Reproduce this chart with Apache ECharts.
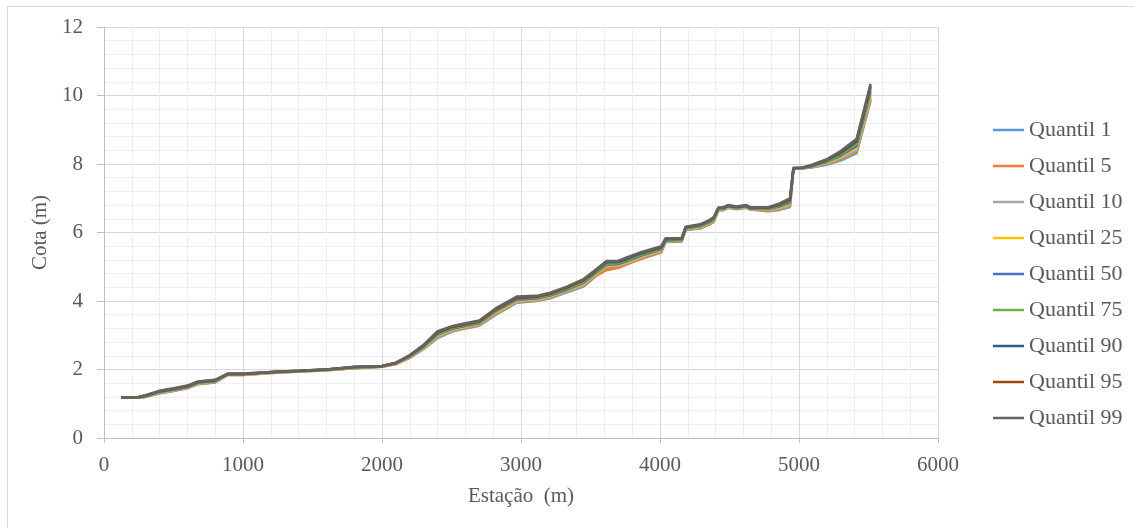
<!DOCTYPE html>
<html>
<head>
<meta charset="utf-8">
<script src="https://cdn.jsdelivr.net/npm/echarts@6/dist/echarts.min.js"></script>
<style>html,body{margin:0;padding:0;background:#fff;}#c{width:1134px;height:528px;}</style>
</head>
<body>
<div id="c"></div>
<script>
const stations = [125,250,300,400,500,600,675,800,890,1000,1200,1400,1600,1800,2000,2100,2200,2300,2400,2500,2600,2700,2820,2970,3110,3210,3330,3450,3530,3615,3700,3760,3845,4010,4040,4155,4185,4290,4350,4385,4420,4455,4490,4550,4620,4650,4780,4860,4935,4960,5020,5090,5200,5300,5415,5515];

const q1  = [1.18,1.18,1.20,1.30,1.37,1.45,1.57,1.62,1.84,1.84,1.90,1.94,1.98,2.04,2.08,2.16,2.34,2.60,2.92,3.10,3.20,3.28,3.60,3.95,4.00,4.08,4.25,4.42,4.70,4.97,4.98,5.08,5.20,5.42,5.72,5.73,6.07,6.12,6.22,6.30,6.65,6.65,6.72,6.68,6.72,6.67,6.62,6.66,6.74,7.86,7.87,7.90,7.98,8.10,8.32,9.85];
const q5  = [1.18,1.18,1.20,1.31,1.38,1.46,1.58,1.63,1.84,1.84,1.90,1.94,1.98,2.04,2.08,2.16,2.35,2.61,2.94,3.12,3.21,3.29,3.62,3.96,4.01,4.09,4.27,4.44,4.71,4.90,4.97,5.06,5.21,5.43,5.73,5.74,6.08,6.13,6.23,6.31,6.66,6.66,6.73,6.69,6.73,6.68,6.63,6.68,6.77,7.86,7.87,7.91,8.00,8.13,8.36,9.90];
const q10 = [1.18,1.18,1.21,1.32,1.39,1.47,1.59,1.64,1.85,1.85,1.91,1.94,1.98,2.05,2.08,2.17,2.36,2.62,2.96,3.13,3.23,3.31,3.64,3.98,4.03,4.11,4.28,4.46,4.74,5.00,5.02,5.10,5.24,5.46,5.74,5.75,6.09,6.14,6.25,6.33,6.67,6.67,6.74,6.70,6.74,6.69,6.64,6.70,6.79,7.86,7.87,7.92,8.01,8.16,8.40,9.95];
const q25 = [1.18,1.19,1.22,1.33,1.40,1.48,1.60,1.65,1.85,1.85,1.91,1.95,1.99,2.05,2.09,2.17,2.37,2.64,2.99,3.16,3.25,3.33,3.67,4.01,4.05,4.14,4.31,4.50,4.76,5.03,5.05,5.13,5.27,5.48,5.76,5.77,6.11,6.16,6.27,6.35,6.68,6.68,6.75,6.71,6.75,6.70,6.66,6.73,6.83,7.87,7.88,7.92,8.04,8.20,8.47,10.02];
const q50 = [1.18,1.19,1.22,1.34,1.41,1.49,1.61,1.66,1.86,1.86,1.92,1.95,1.99,2.06,2.09,2.18,2.38,2.66,3.02,3.18,3.27,3.35,3.70,4.04,4.07,4.16,4.33,4.53,4.79,5.06,5.08,5.16,5.30,5.51,5.77,5.78,6.12,6.18,6.29,6.37,6.69,6.69,6.76,6.72,6.76,6.70,6.68,6.76,6.87,7.87,7.88,7.93,8.06,8.24,8.53,10.10];
const q75 = [1.18,1.19,1.23,1.35,1.42,1.50,1.62,1.67,1.86,1.86,1.92,1.95,1.99,2.06,2.09,2.18,2.39,2.68,3.05,3.20,3.30,3.38,3.72,4.07,4.10,4.18,4.36,4.56,4.82,5.09,5.11,5.19,5.33,5.54,5.79,5.79,6.13,6.20,6.31,6.39,6.70,6.71,6.77,6.73,6.77,6.71,6.70,6.78,6.90,7.87,7.88,7.94,8.08,8.28,8.59,10.17];
const q90 = [1.18,1.20,1.24,1.36,1.43,1.51,1.63,1.68,1.87,1.87,1.92,1.96,2.00,2.07,2.10,2.19,2.40,2.70,3.08,3.23,3.32,3.40,3.75,4.09,4.12,4.21,4.39,4.60,4.85,5.13,5.14,5.22,5.36,5.56,5.80,5.81,6.15,6.22,6.33,6.41,6.71,6.72,6.78,6.74,6.78,6.72,6.72,6.81,6.94,7.88,7.89,7.95,8.11,8.32,8.66,10.24];
const q95 = [1.18,1.20,1.24,1.37,1.44,1.52,1.64,1.69,1.87,1.87,1.93,1.96,2.00,2.07,2.10,2.19,2.41,2.71,3.10,3.24,3.33,3.41,3.77,4.11,4.13,4.22,4.40,4.62,4.87,5.15,5.16,5.25,5.38,5.58,5.82,5.82,6.16,6.23,6.34,6.43,6.72,6.73,6.79,6.75,6.79,6.73,6.73,6.83,6.97,7.88,7.89,7.96,8.12,8.35,8.70,10.29];
const q99 = [1.18,1.20,1.25,1.38,1.45,1.53,1.65,1.70,1.88,1.88,1.93,1.96,2.00,2.08,2.10,2.20,2.42,2.72,3.12,3.26,3.35,3.43,3.79,4.13,4.15,4.24,4.42,4.64,4.89,5.17,5.17,5.27,5.40,5.60,5.83,5.83,6.17,6.24,6.35,6.44,6.73,6.74,6.80,6.76,6.80,6.74,6.74,6.85,7.00,7.88,7.89,7.97,8.14,8.38,8.74,10.34];

const seriesNames = ['Quantil 1','Quantil 5','Quantil 10','Quantil 25','Quantil 50','Quantil 75','Quantil 90','Quantil 95','Quantil 99'];
const seriesValues = [q1,q5,q10,q25,q50,q75,q90,q95,q99];
const colors = ['#5B9BD5','#ED7D31','#A5A5A5','#FFC000','#4472C4','#70AD47','#255E91','#9E480E','#636363'];

const xTicks = [0,1000,2000,3000,4000,5000,6000];
const yTicks = [0,2,4,6,8,10,12];

const FONT = '"Liberation Serif","Times New Roman",serif';
const chart = echarts.init(document.getElementById('c'), null, {renderer:'canvas'});

const series = seriesNames.map((n,i)=>({
  name:n, type:'line', showSymbol:false, symbol:'none',
  data: stations.map((x,j)=>[x, seriesValues[i][j]]),
  lineStyle:{width:2.5, color:colors[i]}, itemStyle:{color:colors[i]},
  z: 2+i, animation:false
}));

chart.setOption({
  animation:false,
  backgroundColor:'#fff',
  color: colors,
  graphic:[
    {type:'line', shape:{x1:7.5,y1:6.5,x2:1134,y2:6.5}, style:{stroke:'#D9D9D9',lineWidth:1}, silent:true},
    {type:'line', shape:{x1:7.5,y1:6.5,x2:7.5,y2:528}, style:{stroke:'#D9D9D9',lineWidth:1}, silent:true}
  ],
  grid:{left:104, right:196, top:27, bottom:90, containLabel:false},
  legend:{
    orient:'vertical', left:988, top:114,
    icon:'rect', itemWidth:31, itemHeight:2.5, itemGap:14,
    textStyle:{fontFamily:FONT, fontSize:22, color:'#595959', lineHeight:22},
    data: seriesNames
  },
  xAxis:{
    type:'value', min:xTicks[0], max:xTicks[xTicks.length-1], interval:1000,
    name:'Estação  (m)', nameLocation:'middle', nameGap:48,
    nameTextStyle:{fontFamily:FONT, fontSize:21, color:'#595959'},
    axisLine:{show:true, onZero:false, lineStyle:{color:'#BFBFBF', width:1}},
    axisTick:{show:true, length:5, lineStyle:{color:'#BFBFBF'}},
    axisLabel:{fontFamily:FONT, fontSize:21, color:'#595959', margin:17, formatter:(v)=>String(v)},
    splitLine:{show:true, lineStyle:{color:'#D9D9D9', width:1}},
    minorTick:{show:false, splitNumber:5},
    minorSplitLine:{show:true, lineStyle:{color:'#EFEFEF', width:1}}
  },
  yAxis:{
    type:'value', min:yTicks[0], max:yTicks[yTicks.length-1], interval:2,
    name:'Cota (m)', nameLocation:'middle', nameGap:45, nameRotate:90,
    nameTextStyle:{fontFamily:FONT, fontSize:21, color:'#595959'},
    axisLine:{show:true, lineStyle:{color:'#BFBFBF', width:1}},
    axisTick:{show:true, length:7, lineStyle:{color:'#BFBFBF'}},
    axisLabel:{fontFamily:FONT, fontSize:21, color:'#595959', margin:21, formatter:(v)=>String(v)},
    splitLine:{show:true, lineStyle:{color:'#D9D9D9', width:1}},
    minorTick:{show:false, splitNumber:5},
    minorSplitLine:{show:true, lineStyle:{color:'#EFEFEF', width:1}}
  },
  series: series
});
</script>
</body>
</html>
